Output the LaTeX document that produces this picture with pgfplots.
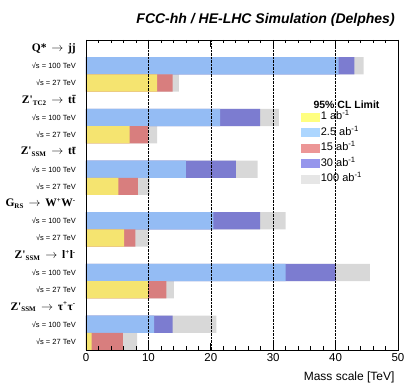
\documentclass[border=0pt]{standalone}
\usepackage{pgfplots}
\pgfplotsset{compat=1.18}
\usepackage{fontspec}
\setmainfont{Liberation Sans}
\newfontfamily\tms{Liberation Serif}
\definecolor{byellow}{RGB}{245,228,112}
\definecolor{bblue}{RGB}{148,188,244}
\definecolor{bred}{RGB}{216,126,126}
\definecolor{bpurple}{RGB}{124,124,208}
\definecolor{bgrey}{RGB}{216,216,216}
\definecolor{lyellow}{RGB}{255,255,128}
\definecolor{lblue}{RGB}{172,214,255}
\definecolor{lred}{RGB}{236,150,150}
\definecolor{lpurple}{RGB}{150,150,236}
\definecolor{lgrey}{RGB}{230,230,230}

\newcommand{\proc}[2]{{\tms\bfseries\fontsize{11.5}{13}\selectfont #1\, $\rightarrow$\, #2}}
\newcommand{\lsub}[1]{\textsubscript{\fontsize{7}{8}\selectfont #1}}
\newcommand{\lsup}[1]{\textsuperscript{\fontsize{7}{8}\selectfont #1}}
\newcommand{\rs}[1]{{\fontsize{7.5}{8}\selectfont √s = #1 TeV}}

\begin{document}
\begin{tikzpicture}
\begin{axis}[
    scale only axis,
    width=312pt, height=310pt,
    xbar, bar shift=0pt, bar width=1,
    xmin=0, xmax=50,
    ymin=-0.5, ymax=17.5,
    y dir=reverse,
    axis on top,
    clip mode=individual,
    xtick={0,10,...,50},
    minor x tick num=4,
    xtick pos=both,
    major tick length=7pt,
    minor tick length=3.5pt,
    xmajorgrids,
    major grid style={black, densely dotted, line width=0.5pt},
    ytick={0,...,17},
    yticklabels={
      \proc{Q*}{jj}, \rs{100}, \rs{27},
      \proc{Z'\lsub{TC2}}{t\={t}}, \rs{100}, \rs{27},
      \proc{Z'\lsub{SSM}}{t\={t}}, \rs{100}, \rs{27},
      \proc{G\lsub{RS}}{W\lsup{+}W\lsup{-}}, \rs{100}, \rs{27},
      \proc{Z'\lsub{SSM}}{l\lsup{+}l\lsup{-}}, \rs{100}, \rs{27},
      \proc{Z'\lsub{SSM}}{τ\lsup{+}τ\lsup{-}}, \rs{100}, \rs{27}},
    ytick style={draw=none},
    yticklabel style={inner sep=1pt, xshift=-2pt},
    xticklabel style={font=\fontsize{11.5}{12}\selectfont},
    /pgf/number format/assume math mode=true,
    axis line style={line width=0.8pt},
    every tick/.style={black, line width=0.6pt},
    xlabel={Mass scale [TeV]},
    xlabel style={at={(rel axis cs:1,0)}, anchor=north east, yshift=-18pt, font=\fontsize{12}{13}\selectfont},
    title={FCC-hh / HE-LHC Simulation (Delphes)},
    title style={at={(0.99,1)}, anchor=south east, inner sep=0pt, yshift=7pt,
      font=\bfseries\itshape\fontsize{14}{16}\selectfont},
    legend style={draw=none, fill=none, at={(rel axis cs:0.688,0.776)}, anchor=north west,
      font=\fontsize{11}{12}\selectfont, inner sep=0pt, row sep=0pt,
      nodes={inner sep=1pt, text height=9pt, text depth=4.5pt}},
    legend cell align=left,
    legend image code/.code={\path[#1] (0pt,-4.5pt) rectangle (19pt,4.5pt);},
]
\addlegendimage{fill=lyellow, draw=none}\addlegendentry{1 ab\textsuperscript{-1}}
\addlegendimage{fill=lblue, draw=none}\addlegendentry{2.5 ab\textsuperscript{-1}}
\addlegendimage{fill=lred, draw=none}\addlegendentry{15 ab\textsuperscript{-1}}
\addlegendimage{fill=lpurple, draw=none}\addlegendentry{30 ab\textsuperscript{-1}}
\addlegendimage{fill=lgrey, draw=none}\addlegendentry{100 ab\textsuperscript{-1}}

% 100 ab-1
\addplot[fill=bgrey, draw=none, forget plot] coordinates {
  (44.5,1) (14.9,2) (30.9,4) (11.4,5) (27.5,7) (10.2,8)
  (32.0,10) (9.9,11) (45.5,13) (14.1,14) (20.9,16) (8.2,17)};
% 30 ab-1
\addplot[fill=bpurple, draw=none, forget plot] coordinates {
  (43.0,1) (27.9,4) (24.0,7) (27.9,10) (40.0,13) (13.9,16)};
% 2.5 ab-1
\addplot[fill=bblue, draw=none, forget plot] coordinates {
  (40.5,1) (21.5,4) (16.0,7) (20.4,10) (32.0,13) (10.9,16)};
% 15 ab-1
\addplot[fill=bred, draw=none, forget plot] coordinates {
  (13.9,2) (9.9,5) (8.3,8) (7.9,11) (12.9,14) (5.9,17)};
% 1 ab-1
\addplot[fill=byellow, draw=none, forget plot] coordinates {
  (11.4,2) (7.0,5) (5.2,8) (6.1,11) (9.9,14) (0.9,17)};

\node[anchor=west, font=\bfseries\fontsize{10.5}{12}\selectfont] at (rel axis cs:0.718,0.79) {95\% CL Limit};
\end{axis}
\pgfresetboundingbox
\path (current axis.south west) ++(-86pt,-40pt) rectangle ++(407pt,390pt);
\end{tikzpicture}
\end{document}
